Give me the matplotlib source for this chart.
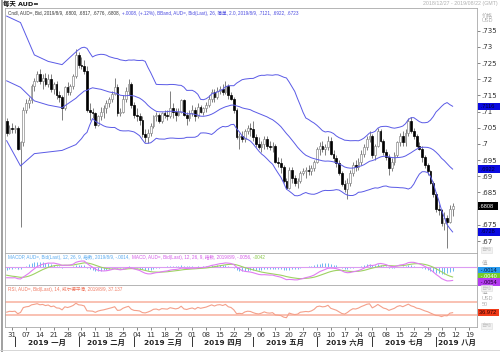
import numpy as np
import pandas as pd
import matplotlib
matplotlib.use('Agg')
import matplotlib.pyplot as plt
from matplotlib import font_manager
from matplotlib.patches import Rectangle
from matplotlib.transforms import blended_transform_factory

plt.rcParams['font.family'] = ['DejaVu Sans', 'Noto Sans CJK SC']
names = {f.name for f in font_manager.fontManager.ttflist}
narrow = 'Liberation Sans Narrow' if 'Liberation Sans Narrow' in names else 'Liberation Sans'
small = [narrow, 'Noto Sans CJK SC']

# AUD= daily bid candles, 2018-12-27 .. 2019-08-09 (one row per week)
opens = [.7070, .7035, .7050, .7045, .7050, .6985, .7005,
         .7105, .7125, .7135, .7180, .7195,
         .7215, .7195, .7205, .7185, .7200,
         .7170, .7185, .7150, .7145, .7110,
         .7175, .7160, .7180, .7210, .7275,
         .7245, .7240, .7225, .7105, .7100,
         .7095, .7060, .7085, .7100, .7110,
         .7125, .7140, .7155, .7175, .7095,
         .7100, .7140, .7165, .7185, .7120,
         .7090, .7085, .7075, .7030, .7020,
         .7035, .7055, .7085, .7090, .7070,
         .7095, .7090, .7085, .7110, .7100,
         .7090, .7100, .7135, .7090, .7080,
         .7095, .7105, .7085, .7115, .7100,
         .7110, .7120, .7140, .7160, .7145,
         .7165, .7170, .7160, .7180, .7150,
         .7140, .7105, .7020, .7025, .7015,
         .7040, .7050, .7045, .7020, .7000,
         .6990, .7000, .7015, .6995, .6990,
         .6995, .6945, .6940, .6930, .6885,
         .6865, .6920, .6895, .6880, .6885,
         .6910, .6915, .6920, .6915, .6925,
         .6945, .6985, .6995, .6985, .6990,
         .7010, .6970, .6955, .6940, .6910,
         .6875, .6860, .6880, .6910, .6935,
         .6930, .6945, .6970, .6990, .7015,
         .7025, .6965, .6995, .7040, .7010,
         .6975, .6960, .6925, .6945, .6965,
         .7005, .7025, .7005, .7035, .7070,
         .7040, .7025, .6995, .6985, .6960,
         .6935, .6915, .6880, .6845, .6800,
         .6795, .6755, .6770, .6760, .6800]
highs = [.7080, .7060, .7065, .7060, .7055, .7010, .7115,
         .7140, .7145, .7185, .7205, .7225,
         .7230, .7215, .7220, .7215, .7215,
         .7190, .7195, .7165, .7150, .7180,
         .7190, .7185, .7215, .7292, .7285,
         .7270, .7260, .7240, .7125, .7110,
         .7100, .7090, .7115, .7120, .7135,
         .7145, .7165, .7205, .7185, .7110,
         .7150, .7175, .7200, .7190, .7130,
         .7110, .7095, .7085, .7045, .7045,
         .7065, .7090, .7100, .7095, .7100,
         .7105, .7105, .7165, .7125, .7110,
         .7110, .7140, .7140, .7100, .7105,
         .7120, .7115, .7125, .7120, .7115,
         .7130, .7150, .7170, .7170, .7175,
         .7180, .7185, .7195, .7185, .7160,
         .7145, .7110, .7035, .7040, .7045,
         .7060, .7065, .7070, .7030, .7020,
         .7010, .7025, .7025, .7010, .7005,
         .7000, .6960, .6955, .6935, .6895,
         .6930, .6930, .6905, .6895, .6915,
         .6925, .6930, .6935, .6935, .6950,
         .6990, .7005, .7010, .7000, .7025,
         .7020, .6980, .6965, .6950, .6915,
         .6890, .6895, .6920, .6945, .6950,
         .6955, .6980, .7000, .7025, .7040,
         .7030, .7000, .7050, .7045, .7015,
         .6985, .6970, .6955, .6975, .7010,
         .7035, .7040, .7045, .7080, .7082,
         .7050, .7030, .7005, .6995, .6965,
         .6940, .6920, .6885, .6850, .6815,
         .6800, .6790, .6780, .6810, .6817]
lows = [.7025, .7030, .7035, .7035, .6980, .6743, .6995,
        .7095, .7110, .7125, .7165, .7190,
        .7185, .7170, .7180, .7175, .7160,
        .7155, .7140, .7130, .7075, .7105,
        .7150, .7150, .7170, .7205, .7235,
        .7230, .7215, .7100, .7075, .7080,
        .7050, .7055, .7075, .7080, .7095,
        .7115, .7130, .7150, .7085, .7085,
        .7095, .7130, .7150, .7110, .7080,
        .7070, .7060, .7020, .7005, .7003,
        .7025, .7050, .7070, .7065, .7065,
        .7080, .7075, .7080, .7080, .7070,
        .7085, .7095, .7085, .7060, .7070,
        .7085, .7070, .7080, .7095, .7090,
        .7100, .7115, .7130, .7130, .7140,
        .7155, .7150, .7155, .7140, .7135,
        .7095, .7015, .6985, .7005, .7005,
        .7030, .7025, .7010, .6990, .6985,
        .6975, .6985, .6985, .6980, .6975,
        .6940, .6930, .6910, .6880, .6860,
        .6860, .6880, .6870, .6865, .6880,
        .6905, .6895, .6905, .6905, .6915,
        .6940, .6965, .6975, .6965, .6980,
        .6965, .6945, .6930, .6905, .6870,
        .6850, .6830, .6870, .6900, .6915,
        .6920, .6935, .6960, .6980, .7005,
        .6955, .6950, .6990, .7005, .6965,
        .6950, .6905, .6915, .6935, .6960,
        .6995, .6995, .6995, .7025, .7035,
        .7015, .6990, .6980, .6945, .6925,
        .6905, .6875, .6835, .6790, .6780,
        .6745, .6735, .6677, .6755, .6776]
closes = [.7035, .7050, .7045, .7050, .6985, .7005, .7105,
          .7125, .7135, .7180, .7195, .7215,
          .7195, .7205, .7185, .7200, .7170,
          .7185, .7150, .7145, .7110, .7175,
          .7160, .7180, .7210, .7275, .7245,
          .7240, .7225, .7105, .7100, .7095,
          .7060, .7085, .7100, .7110, .7125,
          .7140, .7155, .7175, .7095, .7100,
          .7140, .7165, .7185, .7120, .7090,
          .7085, .7075, .7030, .7020, .7035,
          .7055, .7085, .7090, .7070, .7095,
          .7090, .7085, .7110, .7100, .7090,
          .7100, .7135, .7090, .7080, .7095,
          .7105, .7085, .7115, .7100, .7110,
          .7120, .7140, .7160, .7145, .7165,
          .7170, .7160, .7180, .7150, .7140,
          .7105, .7020, .7025, .7015, .7040,
          .7050, .7045, .7020, .7000, .6990,
          .7000, .7015, .6995, .6990, .6995,
          .6945, .6940, .6930, .6885, .6865,
          .6920, .6895, .6880, .6885, .6910,
          .6915, .6920, .6915, .6925, .6945,
          .6985, .6995, .6985, .6990, .7010,
          .6970, .6955, .6940, .6910, .6875,
          .6860, .6880, .6910, .6935, .6930,
          .6945, .6970, .6990, .7015, .7025,
          .6965, .6995, .7040, .7010, .6975,
          .6960, .6925, .6945, .6965, .7005,
          .7025, .7005, .7035, .7070, .7040,
          .7025, .6995, .6985, .6960, .6935,
          .6915, .6880, .6845, .6800, .6795,
          .6755, .6770, .6760, .6800, .6808]

# Bollinger band (26, 2.0) over the first bars
# (the window reaches back before the first candle shown)
bb_bar = [0, 5, 10, 15, 20, 25]
bb_upper = [.7395, .7375, .7275, .7255, .7245, .7275]
bb_mid = [.7195, .7175, .7133, .7120, .7112, .7140]
bb_lower = [.7010, .6932, .6970, .6975, .6980, .7005]

# indicator state carried in from before the window (estimated)
macd_seed = [0.7105, 0.7145, -0.0030]   # ema12, ema26, signal
rsi_seed = [0.0010, 0.0016]             # avg gain, avg loss

month_names = ['一月', '二月', '三月', '四月', '五月', '六月', '七月', '八月']

dates = pd.bdate_range('2018-12-27', '2019-08-22')
n = len(closes)
xs = np.arange(n)
c = np.array(closes)

# Bollinger from the closes once 26 bars are in the window
roll = pd.Series(c).rolling(26)
mean = roll.mean().to_numpy()
sd = roll.std(ddof=0).to_numpy()
bx = bb_bar[:-1] + list(range(25, n))
bands = [bb_upper[:-1] + list(mean[25:] + 2 * sd[25:]),
         bb_mid[:-1] + list(mean[25:]),
         bb_lower[:-1] + list(mean[25:] - 2 * sd[25:])]

# MACD 12/26/9
e12, e26, sig = macd_seed
macd, signal = [], []
for v in c:
    e12 += 2 / 13 * (v - e12)
    e26 += 2 / 27 * (v - e26)
    m = e12 - e26
    sig += 2 / 10 * (m - sig)
    macd.append(m)
    signal.append(sig)
macd = np.array(macd)
signal = np.array(signal)
hist = macd - signal

# RSI 14, Wilder
ag, al = rsi_seed
rsi = [100 - 100 / (1 + ag / al)]
for d in np.diff(c):
    ag += (max(d, 0) - ag) / 14
    al += (max(-d, 0) - al) / 14
    rsi.append(100 - 100 / (1 + ag / al))

W, H = 500, 352
fig = plt.figure(figsize=(W / 100, H / 100), dpi=100)
fig.patch.set_facecolor('white')


def box(top, bottom):
    return [5 / W, 1 - bottom / H, 472 / W, (bottom - top) / H]


ax = fig.add_axes(box(8, 253))
axm = fig.add_axes(box(253, 285))
axr = fig.add_axes(box(285, 327))
spine_c = '#a8a8a8'
for a in (ax, axm, axr):
    a.set_xlim(-0.6, 169.8)
    a.set_facecolor('white')
    for s in a.spines.values():
        s.set_color(spine_c)
        s.set_linewidth(0.6)
    a.tick_params(left=False, labelleft=False, bottom=False, labelbottom=False)

# candles
for i in range(n):
    o, h, l, cl = opens[i], highs[i], lows[i], closes[i]
    ax.vlines(i, l, h, color='#6a6a6a', lw=0.6, zorder=2)
    up = cl >= o
    ax.add_patch(Rectangle((i - 0.32, min(o, cl)), 0.64, max(abs(cl - o), 0.0003),
                           facecolor='white' if up else 'black',
                           edgecolor='#8c8c8c' if up else 'black',
                           lw=0.5, zorder=3))

for b in bands:
    ax.plot(bx, b, color='#5a5ae6', lw=0.7, zorder=4)

ax.set_ylim(0.6663, 0.7420)
ax.yaxis.tick_right()
ticks = np.round(np.arange(0.670, 0.7351, 0.005), 3)
ax.set_yticks(ticks)
ax.set_yticklabels(['' if abs(t - closes[-1]) < 0.002 else ('%.3f' % t).rstrip('0').lstrip('0')
                    for t in ticks])
ax.tick_params(axis='y', right=True, labelright=True, direction='out',
               length=2, width=0.5, color='#555555', labelsize=5,
               labelcolor='#333333', pad=1)


def side_boxes(a, items, gap):
    # stack the value tags downwards so that they never cover each other
    tr = blended_transform_factory(a.transAxes, a.transData)
    last = None
    for y, txt, fc, tc in sorted(items, key=lambda t: -t[0]):
        if last is not None and last - y < gap:
            y = last - gap
        last = y
        a.text(1.005, y, txt, transform=tr, fontsize=4.1, color=tc, va='center',
               ha='left', zorder=10, clip_on=False, family=small,
               bbox=dict(boxstyle='square,pad=0.2', fc=fc, ec='none'))


def fmt(v):
    return ('%.4f' % v).replace('0.', '.')


side_boxes(ax, [(b[-1], ' ' + fmt(b[-1]) + '   ', '#0a0ae0', '#000030') for b in bands]
           + [(closes[-1], fmt(closes[-1]) + '  ', 'black', 'white')], 0.0017)

# MACD panel
axm.vlines(xs, 0, hist, color='#6cb8f0', lw=0.7)
axm.axhline(0, color='#dc9cf2', lw=0.8)
axm.plot(xs, signal, color='#9ed262', lw=0.8)
axm.plot(xs, macd, color='#e07cf2', lw=0.8)
axm.set_ylim(-0.00724, 0.00585)
side_boxes(axm, [(hist[-1], ' ' + fmt(hist[-1]) + '  ', '#2a9cf0', '#001a40'),
                 (signal[-1], ' ' + fmt(signal[-1]) + '  ', '#74cc2a', '#ffffff'),
                 (macd[-1], ' ' + fmt(macd[-1]) + '  ', '#b43cf0', '#200030')], 0.0021)

# RSI panel
axr.axhline(70, color='#f8b6a6', lw=1.2)
axr.axhline(30, color='#f8b6a6', lw=1.2)
axr.plot(xs, rsi, color='#f4a08a', lw=0.8)
axr.set_ylim(-6, 120)
side_boxes(axr, [(rsi[-1], '%.3f ' % rsi[-1], '#f03a18', '#300000')], 0)

# date axis
mondays = [i for i, d in enumerate(dates) if d.weekday() == 0]
axr.set_xticks(mondays)
axr.set_xticklabels(['%02d' % dates[i].day for i in mondays])
axr.tick_params(axis='x', bottom=True, labelbottom=True, direction='out',
                length=2, width=0.5, color='#555555', labelsize=5,
                labelcolor='#333333', pad=1.5)

starts = [i for i in range(1, len(dates)) if dates[i].month != dates[i - 1].month]
tr = blended_transform_factory(axr.transData, fig.transFigure)
edges = starts + [len(dates) - 1]
for k, s in enumerate(starts):
    fig.add_artist(plt.Line2D([s, s], [1 - 337 / H, 1 - 346 / H], transform=tr,
                              color='#333333', lw=0.7))
    mid = (s + edges[k + 1]) / 2
    fig.text(mid, 1 - 342 / H, '2019 ' + month_names[k], transform=tr,
             ha='center', va='center', fontsize=5.3, color='#222222',
             fontweight='bold')

# left window edge and bottom rule
fig.add_artist(plt.Line2D([1.5 / W, 1.5 / W], [0, 1], color='#909090', lw=1.2))
fig.add_artist(plt.Line2D([0, 1], [1 - 350 / H, 1 - 350 / H], color='#d0d0d0', lw=0.6))

# header texts
fig.text(3 / W, 1 - 4 / H, '每天 AUD=', fontsize=4.6, fontweight='bold',
         color='#111111', va='center')
fig.text(498 / W, 1 - 4 / H, '2018/12/27 - 2019/08/22 (GMT)', fontsize=3.8,
         color='#b0b0b0', va='center', ha='right', family=small)

fig.canvas.draw()
rend = fig.canvas.get_renderer()


def chain(x, y, parts, fs=3.3):
    for s, col in parts:
        t = fig.text(x, 1 - y / H, s, color=col, fontsize=fs, va='center', family=small)
        bb = t.get_window_extent(renderer=rend)
        x = (bb.x1 + 2) / W


chain(8 / W, 13, [('Cndl, AUD=, Bid, 2019/8/9, .6800, .6817, .6776, .6808,', '#333333'),
                  ('+.0008, (+.12%), BBand, AUD=, Bid(Last), 26, 简单, 2.0, 2019/8/9, .7121, .6922, .6723', '#4a4ae0')])
chain(8 / W, 257.5, [('MACDP, AUD=, Bid(Last), 12, 26, 9, 指数, 2019/8/9, -.0014,', '#58aaf0'),
                     ('MACD, AUD=, Bid(Last), 12, 26, 9, 指数, 2019/8/9, -.0056,', '#d45ae8'),
                     ('-.0042', '#88c848')])
chain(8 / W, 289, [('RSI, AUD=, Bid(Last), 14, 威尔德平滑, 2019/8/9, 37.137', '#f07860')])

# unit captions on the right scale
for y, s in [(15, '价格'), (20, 'USD'), (263, '值'), (292.5, '值'), (298, 'USD'), (304, '50')]:
    fig.text(482 / W, 1 - y / H, s, fontsize=4, color='#b0b0b0', va='center', family=small)
for y in (249.5, 288, 325.5):
    fig.text(481 / W, 1 - y / H, '自动', fontsize=3.6, color='#c0c0c0', va='center',
             family=small,
             bbox=dict(boxstyle='square,pad=0.1', fc='#f2f2f2', ec='#dddddd', lw=0.4))

fig.savefig('out.png', dpi=100)
